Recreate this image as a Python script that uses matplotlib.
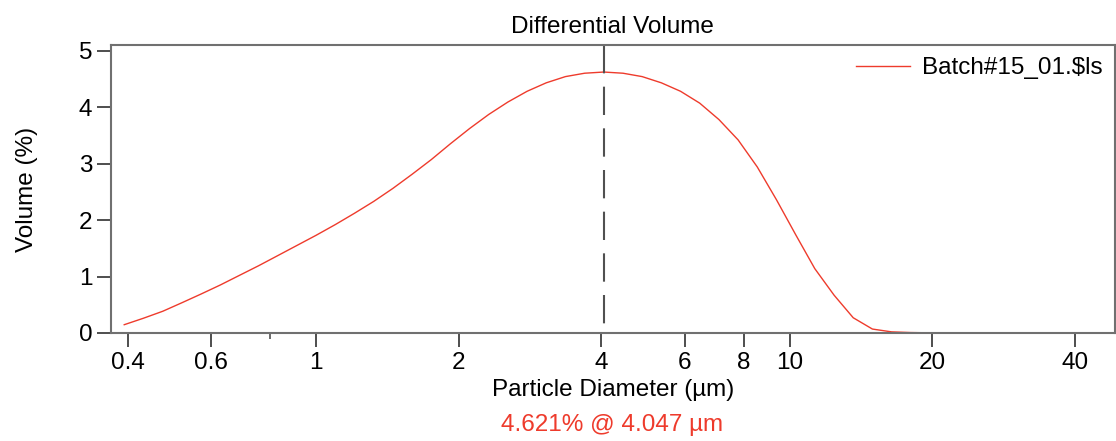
import matplotlib
matplotlib.use("Agg")
import matplotlib.pyplot as plt
from matplotlib.ticker import FixedLocator, FixedFormatter, NullFormatter

plt.rcParams['font.family'] = ['Liberation Sans', 'DejaVu Sans']
plt.rcParams['lines.scale_dashes'] = False

# Channel centre diameters (µm)
diameter = [0.393, 0.431, 0.474, 0.520, 0.571, 0.627, 0.688, 0.755, 0.829, 0.910,
            0.999, 1.097, 1.204, 1.322, 1.451, 1.593, 1.749, 1.919, 2.107, 2.313,
            2.539, 2.787, 3.059, 3.358, 3.687, 4.047, 4.443, 4.877, 5.354, 5.878,
            6.452, 7.083, 7.775, 8.536, 9.370, 10.29, 11.29, 12.40, 13.61, 14.94,
            16.40, 18.00, 19.76]
# Differential volume (%)
volume = [0.147, 0.26, 0.385, 0.535, 0.69, 0.85, 1.02, 1.19, 1.37, 1.55,
          1.73, 1.92, 2.12, 2.33, 2.56, 2.81, 3.07, 3.35, 3.62, 3.87,
          4.09, 4.28, 4.43, 4.54, 4.60, 4.621, 4.60, 4.54, 4.43, 4.28,
          4.07, 3.78, 3.42, 2.94, 2.36, 1.74, 1.14, 0.67, 0.27, 0.07,
          0.02, 0.008, 0.003]

series_name = "Batch#15_01.$ls"
mode_x = 4.047
mode_y = 4.621

xticks_major = [0.4, 0.6, 1, 2, 4, 6, 8, 10, 20, 40]
xtick_labels = ["0.4", "0.6", "1", "2", "4", "6", "8", "10", "20", "40"]
xticks_minor = [0.8]
yticks = [0, 1, 2, 3, 4, 5]

FS = 17.5
red = '#EE3B2C'

fig = plt.figure(figsize=(11.16, 4.41), dpi=100)
ax = fig.add_axes([0.0995, 0.2449, 0.8992, 0.6531])

ax.plot(diameter, volume, color=red, lw=1.0, label=series_name)
ax.plot([mode_x, mode_x], [5.1, 0], color='#505050', lw=1.5,
        dashes=(20.4, 9.6))

ax.set_xscale('log')
ax.set_xlim(0.3686, 48.5)
ax.set_ylim(0, 5.1)

ax.xaxis.set_major_locator(FixedLocator(xticks_major))
ax.xaxis.set_major_formatter(FixedFormatter(xtick_labels))
ax.xaxis.set_minor_locator(FixedLocator(xticks_minor))
ax.xaxis.set_minor_formatter(NullFormatter())
ax.set_yticks(yticks)
ax.set_yticklabels([str(v) for v in yticks])

ax.tick_params(axis='both', which='major', direction='out', length=10,
               width=1.2, color='#303030', labelsize=FS, pad=3.5)
ax.tick_params(axis='x', which='minor', direction='out', length=4.6,
               width=1.2, color='#505050')
ax.tick_params(axis='x', which='major', pad=4)

for sp in ax.spines.values():
    sp.set_color('#707070')
    sp.set_linewidth(1.5)

ax.set_title("Differential Volume", fontsize=FS, pad=8.6)
ax.set_xlabel("Particle Diameter (µm)", fontsize=FS, labelpad=3)
ax.set_ylabel("Volume (%)", fontsize=FS, labelpad=29)

leg = ax.legend(loc='upper right', frameon=False, fontsize=FS,
                handlelength=2.2, handletextpad=0.5,
                borderaxespad=0.2, borderpad=0.3)

fig.text(0.5484, 0.012, f"{mode_y:.3f}% @ {mode_x:.3f} µm", color=red,
         fontsize=FS, ha='center', va='bottom')

fig.savefig("out.png", dpi=100)
